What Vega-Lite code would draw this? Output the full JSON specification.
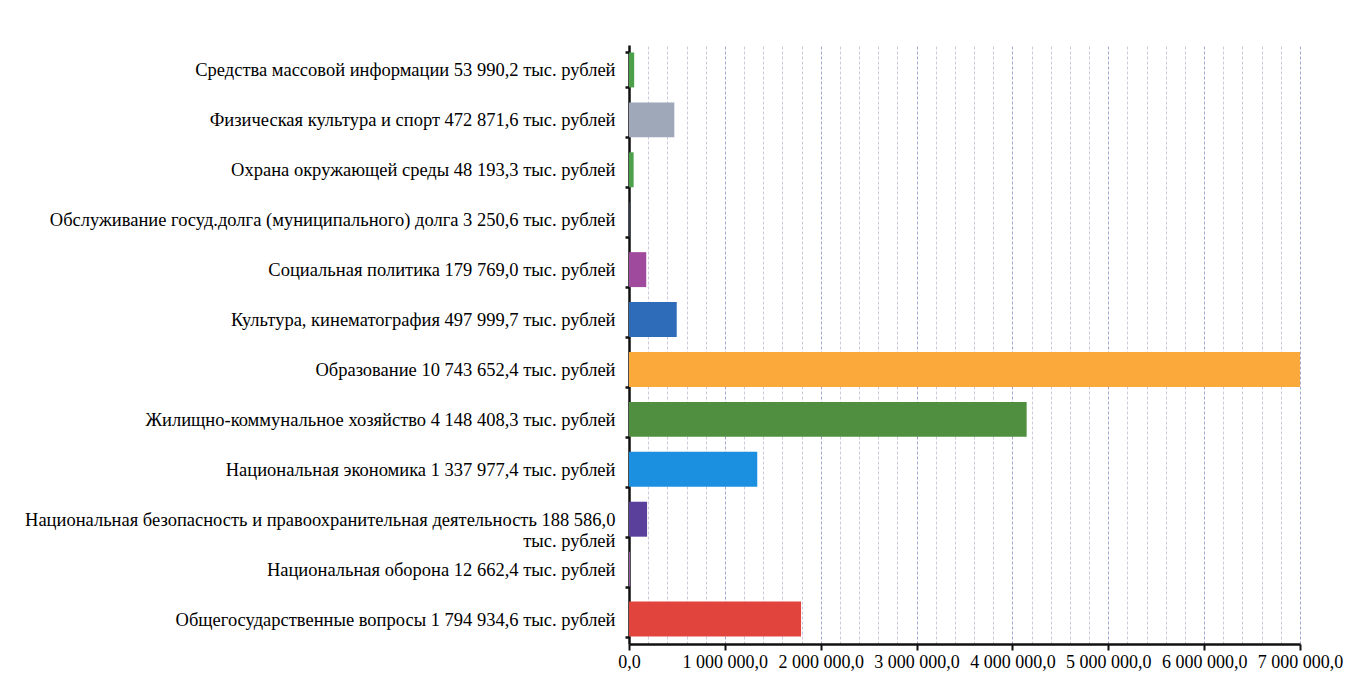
{
  "$schema": "https://vega.github.io/schema/vega-lite/v6.json",
  "autosize": {"type": "none"},
  "padding": {"left": 629, "top": 45, "right": 49, "bottom": 38},
  "width": 671,
  "height": 599,
  "background": "white",
  "config": {
    "locale": {"number": {"decimal": ",", "thousands": " ", "grouping": [3], "currency": ["", ""]}},
    "view": {"stroke": null}
  },
  "data": {
    "values": [
      {"label": "Средства массовой информации  53 990,2  тыс. рублей", "value": 53990.2, "color": "#4ca04a"},
      {"label": "Физическая культура и  спорт 472 871,6  тыс. рублей", "value": 472871.6, "color": "#9ea8b8"},
      {"label": "Охрана  окружающей  среды 48 193,3  тыс. рублей", "value": 48193.3, "color": "#4ca04a"},
      {"label": "Обслуживание госуд.долга (муниципального)  долга 3 250,6  тыс. рублей", "value": 3250.6, "color": "#6a8fc8"},
      {"label": "Социальная политика 179  769,0  тыс. рублей", "value": 179769.0, "color": "#a04a9e"},
      {"label": "Культура, кинематография 497 999,7  тыс. рублей", "value": 497999.7, "color": "#2e6cb9"},
      {"label": "Образование 10 743  652,4  тыс. рублей", "value": 10743652.4, "color": "#fba93b"},
      {"label": "Жилищно-коммунальное  хозяйство 4 148 408,3  тыс. рублей", "value": 4148408.3, "color": "#4f8f3f"},
      {"label": "Национальная экономика 1 337 977,4  тыс. рублей", "value": 1337977.4, "color": "#1b8fe0"},
      {"label": "Национальная безопасность и правоохранительная деятельность 188 586,0\nтыс. рублей", "value": 188586.0, "color": "#5a409a"},
      {"label": "Национальная оборона 12 662,4  тыс. рублей", "value": 12662.4, "color": "#8a5a9a"},
      {"label": "Общегосударственные вопросы 1 794  934,6  тыс. рублей", "value": 1794934.6, "color": "#e0443c"}
    ]
  },
  "mark": {"type": "bar", "clip": true},
  "encoding": {
    "y": {
      "field": "label",
      "type": "nominal",
      "sort": null,
      "title": null,
      "scale": {"paddingInner": 0.3, "paddingOuter": 0.15},
      "axis": {
        "labelExpr": "split(datum.label, '\\n')",
        "labelFont": "Liberation Serif",
        "labelFontSize": 18.5,
        "labelColor": "#000000",
        "labelLimit": 0,
        "labelPadding": 10,
        "labelLineHeight": 21,
        "tickBand": "extent",
        "tickSize": 4,
        "tickWidth": 2.5,
        "tickColor": "#111111",
        "domainColor": "#111111",
        "domainWidth": 2.5,
        "grid": false
      }
    },
    "x": {
      "field": "value",
      "type": "quantitative",
      "title": null,
      "scale": {"domain": [0, 7000000], "nice": false},
      "axis": {
        "values": [0, 200000, 400000, 600000, 800000, 1000000, 1200000, 1400000, 1600000, 1800000, 2000000, 2200000, 2400000, 2600000, 2800000, 3000000, 3200000, 3400000, 3600000, 3800000, 4000000, 4200000, 4400000, 4600000, 4800000, 5000000, 5200000, 5400000, 5600000, 5800000, 6000000, 6200000, 6400000, 6600000, 6800000, 7000000],
        "labelExpr": "datum.value % 1000000 == 0 ? format(datum.value, ',.1f') : ''",
        "labelFont": "Liberation Serif",
        "labelFontSize": 18,
        "labelColor": "#000000",
        "labelPadding": 3,
        "labelOverlap": false,
        "labelFlush": false,
        "grid": true,
        "gridColor": {"condition": {"test": "datum.value % 1000000 == 0", "value": "#a0a6cc"}, "value": "#c8cadb"},
        "gridDash": [3, 2],
        "gridWidth": 1,
        "tickOpacity": {"condition": {"test": "datum.value % 1000000 == 0", "value": 1}, "value": 0},
        "tickSize": 6,
        "tickWidth": 2,
        "tickColor": "#111111",
        "domainColor": "#111111",
        "domainWidth": 2.5
      }
    },
    "color": {"field": "color", "type": "nominal", "scale": null, "legend": null}
  }
}
